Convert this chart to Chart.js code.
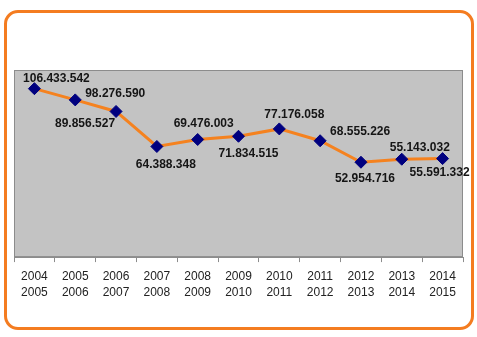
<!DOCTYPE html>
<html>
<head>
<meta charset="utf-8">
<script src="https://cdn.jsdelivr.net/npm/chart.js@4"></script>
<style>
    body { margin: 0; background: #ffffff; }
    #marco {
        position: absolute; left: 4px; top: 10px;
        width: 464px; height: 314px;
        border: 3px solid #f47c20; border-radius: 14px;
    }
    #wrap { position: absolute; left: 0; top: 0; width: 477px; height: 337px; }
</style>
</head>
<body>
<div id="marco"></div>
<div id="wrap"><canvas id="grafico" width="477" height="337"></canvas></div>
<script>
// Datos del gráfico
const periodos = [
    ['2004', '2005'], ['2005', '2006'], ['2006', '2007'], ['2007', '2008'],
    ['2008', '2009'], ['2009', '2010'], ['2010', '2011'], ['2011', '2012'],
    ['2012', '2013'], ['2013', '2014'], ['2014', '2015']
];
const valores = [
    106433542, 98276590, 89856527, 64388348, 69476003, 71834515,
    77176058, 68555226, 52954716, 55143032, 55591332
];

// Desplazamiento de cada etiqueta respecto a su punto (px)
const offsetEtiquetas = [
    [22, -10], [40, -6], [-31, 12], [9, 18], [6, -16], [10, 17],
    [15, -14], [40, -9], [4, 16], [18, -12], [-3, 14]
];

// Formato con puntos de miles
function formatear(v) {
    return String(v).replace(/\B(?=(\d{3})+(?!\d))/g, '.');
}

// Fondo gris del área de trazado
const fondoArea = {
    id: 'fondoArea',
    beforeDraw(chart) {
        const { ctx, chartArea: a } = chart;
        ctx.save();
        ctx.fillStyle = '#c3c3c3';
        ctx.fillRect(a.left, a.top, a.right - a.left, a.bottom - a.top);
        ctx.strokeStyle = '#8c8c8c';
        ctx.lineWidth = 1;
        ctx.strokeRect(a.left + 0.5, a.top + 0.5, a.right - a.left - 1, a.bottom - a.top - 1);
        ctx.restore();
    }
};

// Etiquetas de valor
const etiquetas = {
    id: 'etiquetas',
    afterDatasetsDraw(chart) {
        const ctx = chart.ctx;
        const meta = chart.getDatasetMeta(0);
        ctx.save();
        ctx.font = 'bold 12px "Liberation Sans", Arial, sans-serif';
        ctx.fillStyle = '#151515';
        ctx.textAlign = 'center';
        ctx.textBaseline = 'middle';
        meta.data.forEach((p, i) => {
            const o = offsetEtiquetas[i];
            ctx.fillText(formatear(valores[i]), p.x + o[0], p.y + o[1]);
        });
        ctx.restore();
    }
};

const ctx = document.getElementById('grafico').getContext('2d');
new Chart(ctx, {
    type: 'line',
    data: {
        labels: periodos,
        datasets: [{
            data: valores,
            borderColor: '#f5821f',
            borderWidth: 3,
            pointStyle: 'rectRot',
            pointRadius: 6,
            pointBackgroundColor: '#00007f',
            pointBorderColor: '#00007f',
            pointBorderWidth: 1,
            tension: 0
        }]
    },
    options: {
        responsive: false,
        animation: false,
        layout: { padding: { left: 14, right: 14, top: 70, bottom: 29 } },
        plugins: {
            legend: { display: false },
            tooltip: { enabled: false }
        },
        scales: {
            x: {
                offset: true,
                grid: {
                    offset: true,
                    drawOnChartArea: false,
                    drawTicks: true,
                    tickLength: 5,
                    color: '#8c8c8c'
                },
                border: { display: true, color: '#8c8c8c' },
                ticks: {
                    padding: 7,
                    maxRotation: 0,
                    autoSkip: false,
                    color: '#222222',
                    font: { family: '"Liberation Sans", Arial, sans-serif', size: 12, lineHeight: 1.33 }
                }
            },
            y: {
                display: false,
                min: -16000000,
                max: 120000000
            }
        }
    },
    plugins: [fondoArea, etiquetas]
});
</script>
</body>
</html>
